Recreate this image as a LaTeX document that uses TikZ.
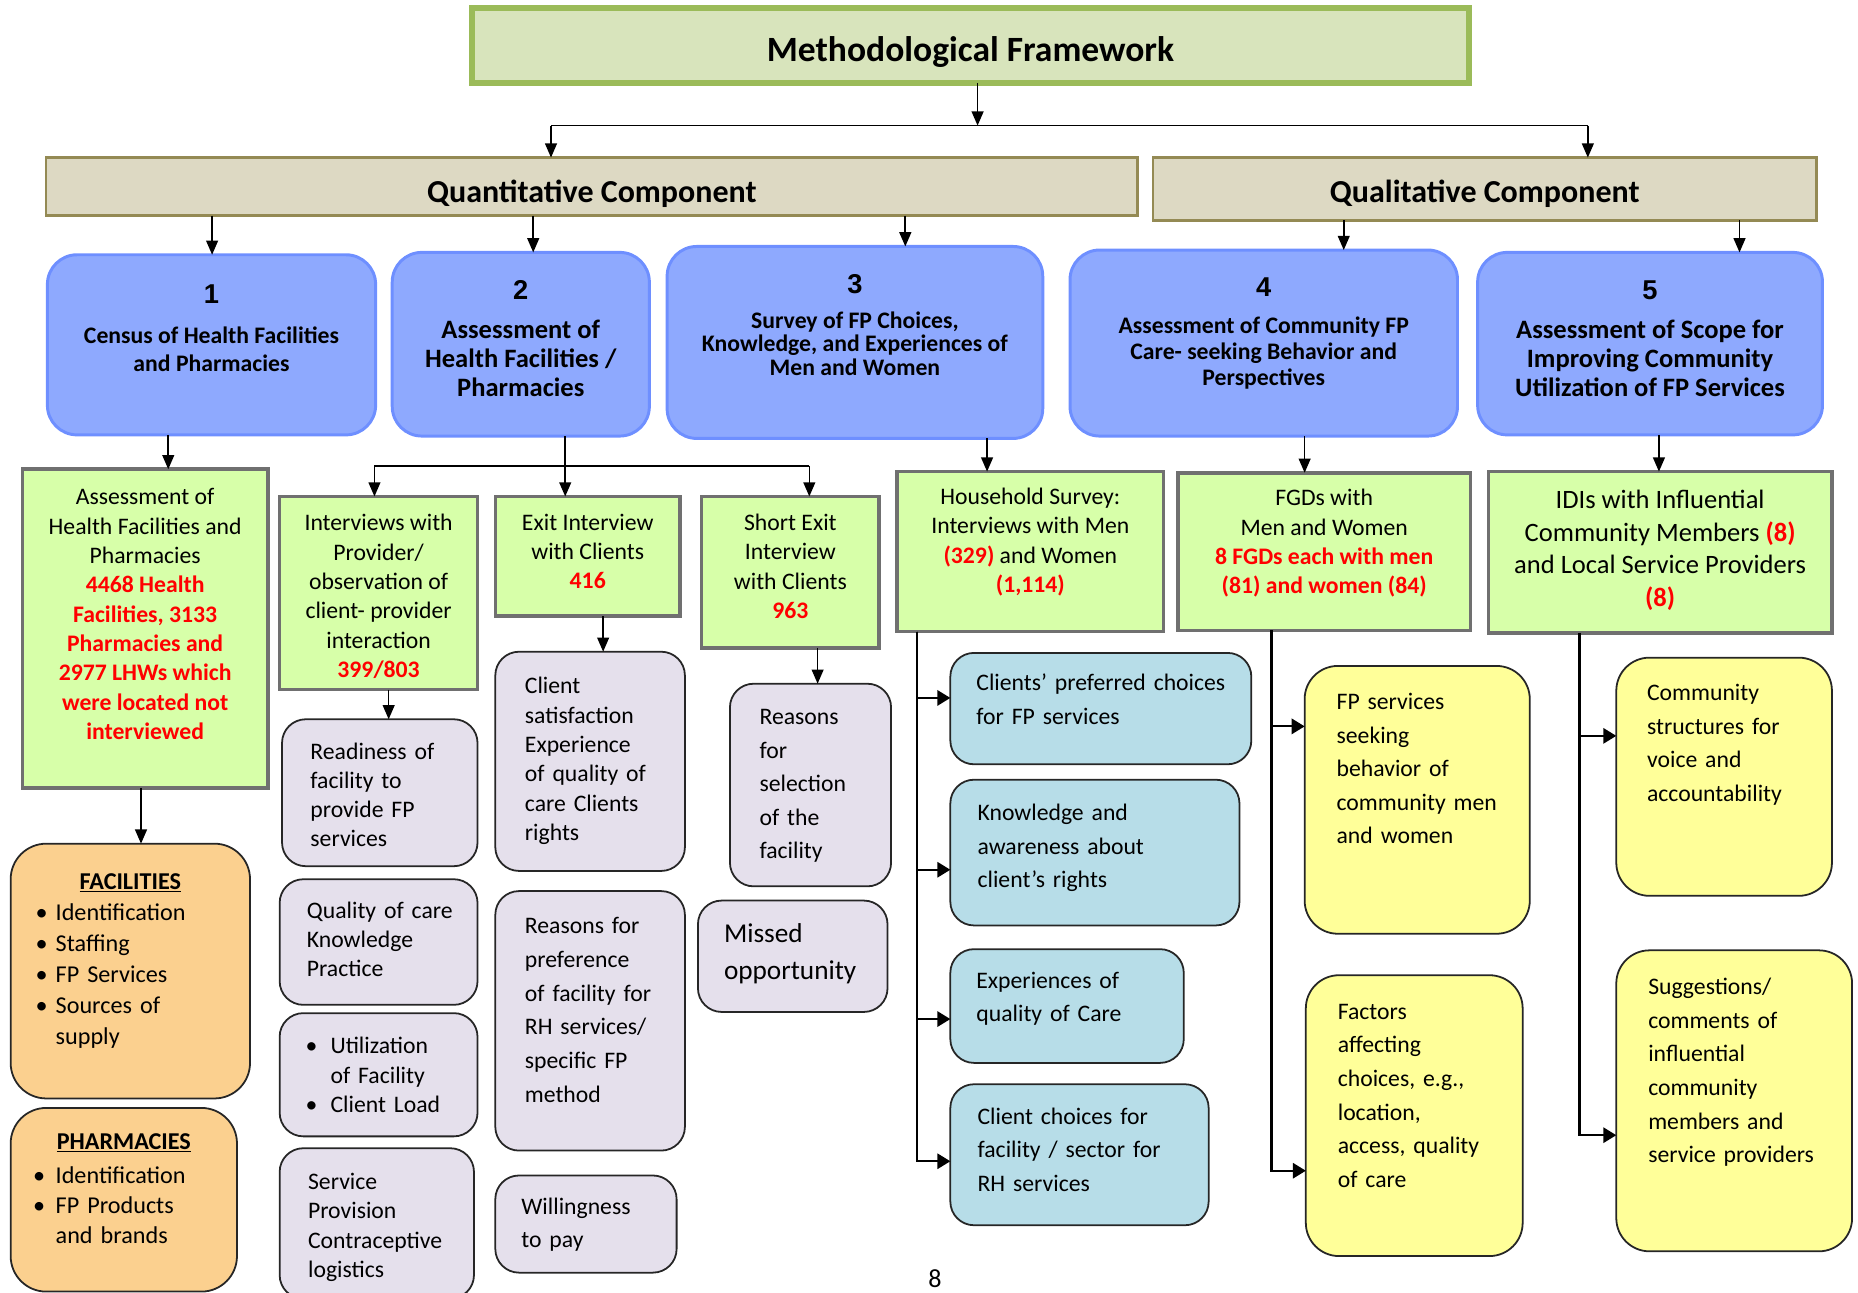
\documentclass[tikz,border=0pt]{standalone}
\usepackage{fontspec}
\setmainfont{Carlito}
\newfontfamily\numfont{Liberation Sans}
\usetikzlibrary{arrows.meta}

\definecolor{titlefill}{HTML}{D8E4BC}
\definecolor{titleline}{HTML}{9BBB59}
\definecolor{compfill}{HTML}{DDD9C3}
\definecolor{compline}{HTML}{948A54}
\definecolor{stagefill}{HTML}{8EA9FE}
\definecolor{stageline}{HTML}{6E8FFF}
\definecolor{methfill}{HTML}{D7FFA9}
\definecolor{methline}{HTML}{707070}
\definecolor{lilac}{HTML}{E5E0EC}
\definecolor{sand}{HTML}{FBD08F}
\definecolor{sky}{HTML}{B7DDE8}
\definecolor{lemon}{HTML}{FFFF99}

\newcommand{\fs}[2]{\fontsize{#1}{#2}\selectfont}
\newcommand{\nb}[1]{{\numfont\bfseries\fontsize{23}{24}\selectfont #1}}
\newcommand{\rb}[1]{\textcolor{red}{\textbf{#1}}}
\newcommand{\ctab}[1]{\begin{tabular}{@{}c@{}}#1\end{tabular}}
\newcommand{\ltab}[1]{\begin{tabular}{@{}l@{}}#1\end{tabular}}

\tikzset{
  box/.style={anchor=north west, inner sep=0pt, outer sep=0pt},
  titlebox/.style={box, draw=titleline, fill=titlefill, line width=5pt, font=\fs{30}{36}\bfseries},
  compbox/.style={box, draw=compline, fill=compfill, line width=2pt, font=\fs{27}{32}\bfseries},
  stagebox/.style={box, draw=stageline, fill=stagefill, line width=2.5pt, rounded corners=25pt},
  methbox/.style={box, draw=methline, fill=methfill, line width=3pt},
  topic/.style={box, draw=black!85, line width=1.5pt, rounded corners=20pt, align=left},
  arr/.style={line width=1.4pt, -{Triangle[length=12pt,width=10pt]}},
  sidearr/.style={line width=1.8pt, -{Triangle[length=11pt,width=13pt]}},
  bus/.style={line width=1.4pt}
}

\begin{document}
\begin{tikzpicture}[x=1pt,y=-1pt]
\useasboundingbox (0,0) rectangle (1568,1091);

% top levels
\node[titlebox, minimum width=842pt, minimum height=63pt] (title) at (398,7) {\ctab{Methodological Framework\\[-12pt]}};
\node[compbox, minimum width=921pt, minimum height=49pt] (quant) at (39,133) {\ctab{Quantitative Component\\[-14pt]}};
\node[compbox, minimum width=560pt, minimum height=53pt] (qual) at (973,133) {\ctab{Qualitative Component\\[-10pt]}};

% the five studies
\node[stagebox, minimum width=277pt, minimum height=152pt, font=\fs{20}{24}\bfseries] (b1) at (40,215)
  {\ctab{\nb{1}\\[10pt] Census of Health Facilities\\ and Pharmacies\\[22pt]}};
\node[stagebox, minimum width=217pt, minimum height=155pt, font=\fs{22.4}{24.5}\bfseries] (b2) at (331,213)
  {\ctab{\nb{2}\\[8.5pt] Assessment of\\ Health Facilities /\\ Pharmacies\\[3pt]}};
\node[stagebox, minimum width=317pt, minimum height=162pt, font=\fs{20}{20}\bfseries] (b3) at (563,208)
  {\ctab{\nb{3}\\[9pt] Survey of FP Choices,\\ Knowledge, and Experiences of\\ Men and Women\\[23pt]}};
\node[stagebox, minimum width=327pt, minimum height=157pt, font=\fs{20}{22}\bfseries] (b4) at (903,211)
  {\ctab{\nb{4}\\[9pt] Assessment of Community FP\\ Care- seeking Behavior and\\ Perspectives\\[12pt]}};
\node[stagebox, minimum width=291pt, minimum height=154pt, font=\fs{22.4}{24.5}\bfseries] (b5) at (1247,213)
  {\ctab{\nb{5}\\[8.5pt] Assessment of Scope for\\ Improving Community\\ Utilization of FP Services\\[2pt]}};

% methods
\node[methbox, minimum width=207pt, minimum height=269pt, font=\fs{20}{24.75}] (hfa) at (19,396)
  {\ctab{Assessment of\\ Health Facilities and\\ Pharmacies\\ \rb{4468 Health}\\ \rb{Facilities, 3133}\\ \rb{Pharmacies and}\\ \rb{2977 LHWs which}\\ \rb{were located not}\\ \rb{interviewed}\\[21pt]}};
\node[methbox, minimum width=167pt, minimum height=163pt, font=\fs{20}{24.8}] (ipr) at (236,419)
  {\ctab{Interviews with\\ Provider/\\ observation of\\ client- provider\\ interaction\\ \rb{399/803}\\[-9pt]}};
\node[methbox, minimum width=156pt, minimum height=101pt, font=\fs{20}{24.5}] (exit) at (418,419)
  {\ctab{Exit Interview\\ with Clients\\ \rb{416}\\[4pt]}};
\node[methbox, minimum width=150pt, minimum height=128pt, font=\fs{20}{24.7}] (sexit) at (592,419)
  {\ctab{Short Exit\\ Interview\\ with Clients\\ \rb{963}\\[6pt]}};
\node[methbox, minimum width=225pt, minimum height=135pt, font=\fs{20}{24.7}] (hhs) at (757,398)
  {\ctab{Household Survey:\\ Interviews with Men\\ \rb{(329)} and Women\\ \rb{(1,114)}\\[15pt]}};
\node[methbox, minimum width=247pt, minimum height=133pt, font=\fs{20}{24.7}] (fgd) at (994,399)
  {\ctab{FGDs with\\ Men and Women\\ \rb{8 FGDs each with men}\\ \rb{(81) and women (84)}\\[13pt]}};
\node[methbox, minimum width=290pt, minimum height=136pt, font=\fs{22.4}{27.7}] (idi) at (1256,398)
  {\ctab{IDIs with Influential\\ Community Members \rb{(8)}\\ and Local Service Providers\\ \rb{(8)}\\[2pt]}};

% census topics
\node[topic, fill=sand, rounded corners=30pt, minimum width=202pt, minimum height=215pt, text width=160pt, inner xsep=21pt, font=\fs{20.4}{26.2}] (fac) at (9,712)
  {\begin{tabular}{@{}p{17pt}@{}p{143pt}@{}}\multicolumn{2}{@{}c@{}}{\textbf{\underline{FACILITIES}}}\\ \textbullet & Identification\\ \textbullet & Staffing\\ \textbullet & FP Services\\ \textbullet & Sources of\\ & supply\\[18pt]\end{tabular}};
\node[topic, fill=sand, rounded corners=30pt, minimum width=191pt, minimum height=155pt, text width=153pt, inner xsep=19pt, font=\fs{20.4}{25}] (pha) at (9,935)
  {\begin{tabular}{@{}p{19pt}@{}p{134pt}@{}}\multicolumn{2}{@{}c@{}}{\textbf{\underline{PHARMACIES}}}\\[4pt] \textbullet & Identification\\ \textbullet & FP Products\\ & and brands\\[16pt]\end{tabular}};

% facility assessment topics
\node[topic, fill=lilac, minimum width=165pt, minimum height=124pt, text width=117pt, inner xsep=24pt, font=\fs{20}{24.5}] (ready) at (238,607)
  {\ltab{Readiness of\\ facility to\\ provide FP\\ services\\[-8pt]}};
\node[topic, fill=lilac, minimum width=167pt, minimum height=106pt, text width=121pt, inner xsep=23pt, font=\fs{20}{24.5}] (qoc) at (236,742)
  {\ltab{Quality of care\\ Knowledge\\ Practice}};
\node[topic, fill=lilac, minimum width=167pt, minimum height=104pt, text width=123pt, inner xsep=22pt, font=\fs{20}{25}] (util) at (236,855)
  {\begin{tabular}{@{}p{21pt}@{}l@{}}\textbullet & Utilization\\ & of Facility\\ \textbullet & Client Load\\[-4pt]\end{tabular}};
\node[topic, fill=lilac, minimum width=164pt, minimum height=127pt, text width=116pt, inner xsep=24pt, font=\fs{20}{24.7}] (spro) at (236,969)
  {\ltab{Service\\ Provision\\ Contraceptive\\ logistics\\[-7pt]}};
\node[topic, fill=lilac, minimum width=160pt, minimum height=185pt, text width=110pt, inner xsep=25pt, font=\fs{20}{24.8}] (csat) at (418,550)
  {\ltab{Client\\ satisfaction\\ Experience\\ of quality of\\ care Clients\\ rights}};
\node[topic, fill=lilac, minimum width=160pt, minimum height=219pt, text width=110pt, inner xsep=25pt, font=\fs{20}{28.4}] (rpref) at (418,752)
  {\ltab{Reasons for\\ preference\\ of facility for\\ RH services/\\ specific FP\\ method\\[16pt]}};
\node[topic, fill=lilac, minimum width=153pt, minimum height=82pt, text width=109pt, inner xsep=22pt, font=\fs{20}{28}] (wtp) at (418,992)
  {\ltab{Willingness\\ to pay}};
\node[topic, fill=lilac, minimum width=136pt, minimum height=171pt, text width=86pt, inner xsep=25pt, font=\fs{20}{28.25}] (rsel) at (616,577)
  {\ltab{Reasons\\ for\\ selection\\ of the\\ facility}};
\node[topic, fill=lilac, minimum width=160pt, minimum height=94pt, text width=116pt, inner xsep=22pt, font=\fs{23}{31}] (missed) at (589,760)
  {\ltab{Missed\\ opportunity\\[5pt]}};

% household survey topics
\node[topic, fill=sky, minimum width=254pt, minimum height=94pt, text width=210pt, inner xsep=22pt, font=\fs{20}{28}] (pref) at (802,551)
  {\ltab{Clients’ preferred choices\\ for FP services\\[13pt]}};
\node[topic, fill=sky, minimum width=244pt, minimum height=123pt, text width=198pt, inner xsep=23pt, font=\fs{20}{28.5}] (know) at (802,658)
  {\ltab{Knowledge and\\ awareness about\\ client’s rights\\[9pt]}};
\node[topic, fill=sky, minimum width=197pt, minimum height=96pt, text width=153pt, inner xsep=22pt, font=\fs{20}{28}] (expq) at (802,801)
  {\ltab{Experiences of\\ quality of Care\\[13pt]}};
\node[topic, fill=sky, minimum width=218pt, minimum height=119pt, text width=172pt, inner xsep=23pt, font=\fs{20}{28}] (cchoice) at (802,915)
  {\ltab{Client choices for\\ facility / sector for\\ RH services\\[6pt]}};

% FGD and IDI topics
\node[topic, fill=lemon, rounded corners=28pt, minimum width=190pt, minimum height=226pt, text width=136pt, inner xsep=27pt, font=\fs{20}{28.25}] (seek) at (1101,562)
  {\ltab{FP services\\ seeking\\ behavior of\\ community men\\ and women\\[50pt]}};
\node[topic, fill=lemon, rounded corners=28pt, minimum width=183pt, minimum height=237pt, text width=129pt, inner xsep=27pt, font=\fs{20}{28.4}] (factors) at (1102,823)
  {\ltab{Factors\\ affecting\\ choices, e.g.,\\ location,\\ access, quality\\ of care\\[32pt]}};
\node[topic, fill=lemon, rounded corners=28pt, minimum width=182pt, minimum height=201pt, text width=130pt, inner xsep=26pt, font=\fs{20}{28.3}] (struct) at (1364,555)
  {\ltab{Community\\ structures for\\ voice and\\ accountability\\[55pt]}};
\node[topic, fill=lemon, rounded corners=28pt, minimum width=199pt, minimum height=254pt, text width=145pt, inner xsep=27pt, font=\fs{20}{28.4}] (sugg) at (1364,802)
  {\ltab{Suggestions/\\ comments of\\ influential\\ community\\ members and\\ service providers\\[49pt]}};

\node[font=\fs{22}{26}] (pnum) at (789,1079) {8};

% connectors
\coordinate (tq) at (825,106);
\coordinate (qL) at (465,106);
\coordinate (qR) at (1340,106);
\draw[arr] (title.south -| tq) -- (tq);
\draw[bus] (qL) -- (qR);
\draw[arr] (qL) -- (qL |- quant.north);
\draw[arr] (qR) -- (qR |- qual.north);

\foreach \x/\a/\b in {179/quant/b1, 450/quant/b2, 764/quant/b3, 1134/qual/b4, 1468/qual/b5,
    142/b1/hfa, 833/b3/hhs, 1101/b4/fgd, 1400/b5/idi,
    119/hfa/fac, 328/ipr/ready, 509/exit/csat, 690/sexit/rsel}
{
  \coordinate (col) at (\x,0);
  \draw[arr] (\a.south -| col) -- (col |- \b.north);
}

% branch under study 2
\coordinate (m2) at (477,393);
\coordinate (bl) at (316,393);
\coordinate (br) at (683,393);
\draw[bus] (b2.south -| m2) -- (m2);
\draw[bus] (bl) -- (br);
\draw[arr] (bl) -- (bl |- ipr.north);
\draw[arr] (m2) -- (m2 |- exit.north);
\draw[arr] (br) -- (br |- sexit.north);

% spines
\coordinate (sC) at (774,0);
\coordinate (sD) at (1073,0);
\coordinate (sE) at (1333,0);
\foreach \n/\dy in {pref/9pt, know/-14.5pt, expq/-11pt, cchoice/-5.5pt}
  \draw[sidearr] (hhs.south -| sC) |- ([yshift=\dy]\n.west);
\foreach \n/\dy in {seek/62pt, factors/-46.5pt}
  \draw[sidearr] (fgd.south -| sD) |- ([yshift=\dy]\n.west);
\foreach \n/\dy in {struct/34.5pt, sugg/-29pt}
  \draw[sidearr] (idi.south -| sE) |- ([yshift=\dy]\n.west);

\end{tikzpicture}
\end{document}
